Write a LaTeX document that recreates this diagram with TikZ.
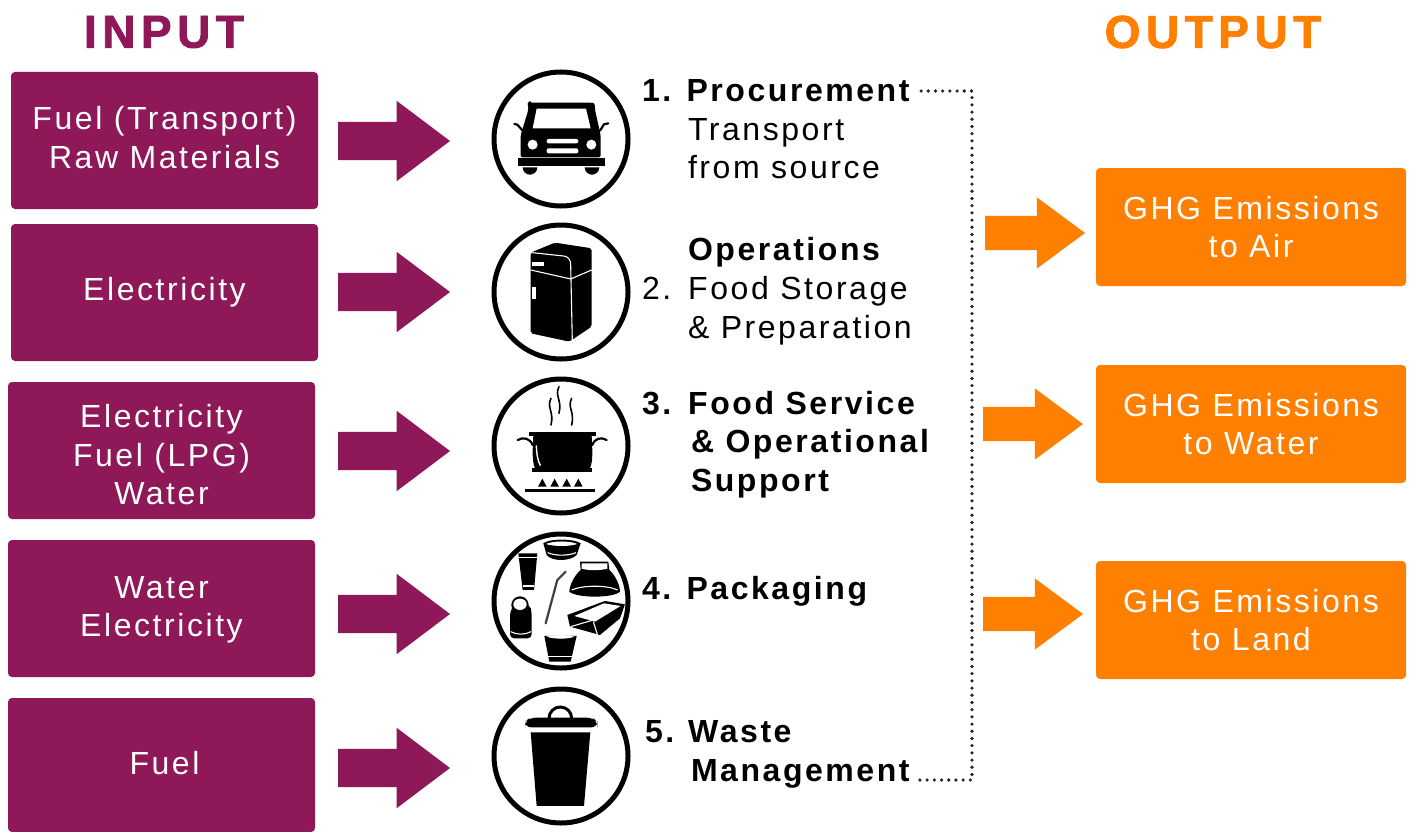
\documentclass[tikz,border=0pt]{standalone}
\usepackage{fontspec}
\setmainfont{Liberation Sans}[LetterSpace=8]
\newfontfamily\headfont{Liberation Sans Bold}[LetterSpace=12,FakeBold=1.8]
\usetikzlibrary{shapes.arrows}
\definecolor{plum}{HTML}{8E1858}
\definecolor{amber}{HTML}{FF7F00}
\newcommand{\bodyfont}{\fontsize{32}{38.5}\selectfont}
\newcommand{\boxlines}[2]{\raisebox{#1}[\height][\depth]{\begin{tabular}{@{}c@{}}#2\end{tabular}}}
\tikzset{
 inbox/.style={draw=none,fill=plum,rounded corners=4pt,minimum width=307pt,minimum height=137pt,inner sep=0pt,outer sep=0pt,text=white,align=center,font=\bodyfont,anchor=north west},
 outbox/.style={draw=none,fill=amber,rounded corners=4pt,minimum width=310pt,minimum height=118pt,inner sep=0pt,outer sep=0pt,text=white,align=center,font=\bodyfont,anchor=north west},
 inarrow/.style={single arrow,fill=plum,draw=none,inner sep=0pt,inner ysep=19pt,inner xsep=0pt,outer sep=0pt,minimum height=112pt,single arrow head extend=21pt,single arrow tip angle=74,anchor=tail},
 outarrow/.style={single arrow,fill=amber,draw=none,inner sep=0pt,inner ysep=17pt,inner xsep=0pt,outer sep=0pt,minimum height=100pt,single arrow head extend=18.5pt,single arrow tip angle=73,anchor=tail},
 ring/.style={circle,draw=black,line width=5pt,fill=white,minimum size=134pt,inner sep=0pt,outer sep=0pt},
 lbl/.style={anchor=west,inner sep=0pt,outer sep=0pt,font=\bodyfont,text height=22pt,text depth=1pt},
 head/.style={inner sep=0pt,outer sep=0pt,font=\fontsize{46}{50}\headfont},
 link/.style={line width=3.6pt,line cap=round,dash pattern=on 0pt off 7.2pt,draw=black!85},
 iconscope/.style={x=0.3333pt,y=-0.3333pt},
 wline/.style={draw=white,line width=1.1pt},
 bline/.style={draw=black,line cap=round}
}
\begin{document}
\begin{tikzpicture}[x=1pt,y=-1pt]
\useasboundingbox (0,0) rectangle (1410,832);
\fill[white] (0,0) rectangle (1410,832);
\node[head,text=plum] (inhead) at (164,32) {INPUT};
\node[head,text=amber] (outhead) at (1213,32) {OUTPUT};
% input boxes
\node[inbox] (b1) at (11,72) {\boxlines{-1pt}{Fuel (Transport)\\Raw Materials}};
\node[inbox] (b2) at (11,224) {\boxlines{0pt}{Electricity}};
\node[inbox] (b3) at (8,382) {\boxlines{-8pt}{Electricity\\Fuel (LPG)\\Water}};
\node[inbox] (b4) at (8,540) {\boxlines{-1.5pt}{Water\\Electricity}};
\node[inbox,minimum height=134pt] (b5) at (8,698) {\boxlines{-2pt}{\hspace*{6pt}Fuel}};
% arrows
\node[inarrow] (a1) at (338,141) {};
\node[inarrow] (a2) at (338,292) {};
\node[inarrow] (a3) at (338,451) {};
\node[inarrow] (a4) at (338,614) {};
\node[inarrow] (a5) at (338,768) {};
\node[outarrow] (o1) at (985,233) {};
\node[outarrow] (o2) at (983,424) {};
\node[outarrow] (o3) at (983,614) {};
% output boxes
\node[outbox] (g1) at (1096,168) {GHG Emissions\\to Air};
\node[outbox] (g2) at (1096,365) {GHG Emissions\\to Water};
\node[outbox] (g3) at (1096,561) {GHG Emissions\\to Land};
% rings
\node[ring] (r1) at (561,139) {};
\node[ring] (r2) at (561,292) {};
\node[ring] (r3) at (561,446) {};
\node[ring] (r4) at (561,601) {};
\node[ring] (r5) at (561,756) {};
% car
\begin{scope}[shift={(480,60)},iconscope]
\fill[black,rounded corners=2pt] (150,128) -- (335,128) to[out=-10,in=90] (345,150) -- (362,225) -- (362,292) -- (122,292) -- (122,225) -- (145,150) to[out=90,in=190] (150,128) -- cycle;
\fill[white] (170,146) -- (318,146) -- (332,205) -- (158,205) -- cycle;
\fill[white] (158,254) circle (15);
\fill[white] (334,254) circle (15);
\fill[white,rounded corners=2pt] (200,237) rectangle (295,250);
\fill[white,rounded corners=2pt] (200,265) rectangle (295,280);
\fill[black] (115,295) rectangle (375,318);
\fill[black] (128,322) arc[start angle=180,end angle=0,radius=22] -- cycle;
\fill[black] (314,322) arc[start angle=180,end angle=0,radius=22] -- cycle;
\draw[bline,line width=2.2pt] (103,192) -- (112,194) -- (128,212);
\draw[bline,line width=2.2pt] (385,190) -- (372,193) -- (360,212);
\end{scope}
% fridge
\begin{scope}[shift={(480,60)},iconscope]
\fill[black,rounded corners=2pt] (152,578) -- (225,548) -- (335,565) -- (335,800) -- (268,845) -- (152,820) -- cycle;
\draw[wline] (152,630) -- (272,657) -- (335,630);
\draw[wline] (157,578) -- (250,588) to[out=0,in=90] (272,612) -- (277,845);
\fill[white] (155,607) rectangle (193,618);
\fill[white] (156,680) rectangle (167,716);
\end{scope}
% pot
\begin{scope}[shift={(480,370)},iconscope]
\foreach \sx/\sy in {213/85,237/50,275/85}{
 \draw[bline,line width=1.6pt] (\sx,\sy) .. controls (\sx-14,\sy+28) and (\sx+10,\sy+40) .. (\sx,\sy+80);
}
\fill[black] (147,185) rectangle (347,197);
\fill[black] (160,197) .. controls (158,240) and (155,270) .. (165,295) -- (330,295) .. controls (340,270) and (337,240) .. (335,197) -- cycle;
\fill[black] (157,295) rectangle (337,307);
\draw[draw=white,line width=1.4pt,line cap=round] (169,228) .. controls (170,250) and (172,270) .. (181,286);
\draw[bline,line width=2.2pt] (113,210) .. controls (130,200) and (150,205) .. (158,225);
\draw[bline,line width=2.2pt] (380,210) .. controls (362,200) and (345,205) .. (337,225);
\foreach \fx in {187,224,260,295}{
 \fill[black] (\fx-13,350) -- (\fx,326) -- (\fx+13,350) -- cycle;
}
\fill[black] (135,357) rectangle (345,367);
\end{scope}
% packaging
\begin{scope}[shift={(480,370)},iconscope]
% bowl top
\fill[black] (190,520) .. controls (210,505) and (280,505) .. (302,520) -- (290,555) .. controls (270,575) and (215,575) .. (200,555) -- cycle;
\fill[white] (198,522) .. controls (220,512) and (270,512) .. (292,522) .. controls (270,530) and (220,530) .. cycle;
\draw[wline] (203,548) .. controls (225,558) and (265,558) .. (288,548);
% cup left
\fill[black] (115,550) -- (172,550) -- (162,660) -- (128,660) -- cycle;
\draw[wline] (118,562) -- (170,562);
\draw[wline] (128,648) -- (162,648);
% lidded bowl
\fill[black] (300,575) -- (385,575) -- (388,600) .. controls (410,620) and (420,650) .. (420,665) .. controls (400,685) and (290,685) .. (268,665) .. controls (270,640) and (285,615) .. (302,600) -- cycle;
\fill[white] (305,580) -- (382,580) -- (382,596) .. controls (360,602) and (325,602) .. (305,596) -- cycle;
\draw[wline] (275,660) .. controls (310,645) and (380,645) .. (413,660);
% straw
\draw[draw=black!75,line width=2.2pt,line cap=round] (257,605) -- (232,630) -- (197,760);
% shaker
\fill[black,rounded corners=4pt] (90,725) -- (102,705) -- (150,705) -- (155,725) -- (155,805) -- (90,805) -- cycle;
\fill[black] (120,705) ellipse (26 and 26);
\fill[white] (120,703) ellipse (20 and 17);
\draw[wline] (92,785) .. controls (110,795) and (135,795) .. (153,785);
% tray
\fill[black] (262,735) -- (375,693) -- (435,703) -- (420,745) -- (360,795) -- (270,770) -- cycle;
\fill[white] (283,738) -- (372,700) -- (422,708) -- (345,755) -- cycle;
\draw[wline] (272,770) -- (340,750);
\draw[wline] (340,755) -- (352,793);
% bottom cup
\fill[black] (193,798) -- (290,798) -- (272,875) -- (208,875) -- cycle;
\fill[white] (200,800) .. controls (220,795) and (265,795) .. (283,800) .. controls (265,808) and (220,808) .. cycle;
\draw[wline] (205,860) -- (275,860);
\end{scope}
% bin
\begin{scope}[shift={(480,680)},iconscope]
\draw[black,line width=3pt] (207,115) arc[start angle=180,end angle=360,radius=34];
\fill[black,rounded corners=6pt] (135,142) -- (135,125) -- (150,113) -- (338,113) -- (352,125) -- (352,142) -- cycle;
\fill[black] (152,157) -- (331,157) -- (312,378) -- (170,378) -- cycle;
\end{scope}
% labels
\node[lbl] (proc) at (642,91) {\textbf{1. Procurement}};
\node[lbl] (t1) at (688,130) {Transport};
\node[lbl] (t2) at (688,168) {from source};
\node[lbl] (t3) at (688,250) {\textbf{Operations}};
\node[lbl] (t4) at (642,289) {2.\hspace{17pt}Food Storage};
\node[lbl] (t5) at (688,328) {\& Preparation};
\node[lbl] (t6) at (642,404) {\textbf{3.\hspace{17pt}Food Service}};
\node[lbl] (t7) at (691,442) {\textbf{\& Operational}};
\node[lbl] (t8) at (691,481) {\textbf{Support}};
\node[lbl] (t9) at (642,589) {\textbf{4. Packaging}};
\node[lbl] (t10) at (645,732) {\textbf{5.\hspace{14pt}Waste}};
\node[lbl] (waste) at (691,771) {\textbf{Management}};
\coordinate (c1) at (972,91);
\coordinate (c2) at (972,780);
\draw[link] ([xshift=9pt]proc.east) -- (c1) -- (c2) -- ([shift={(5,9)}]waste.east);
\end{tikzpicture}
\end{document}
